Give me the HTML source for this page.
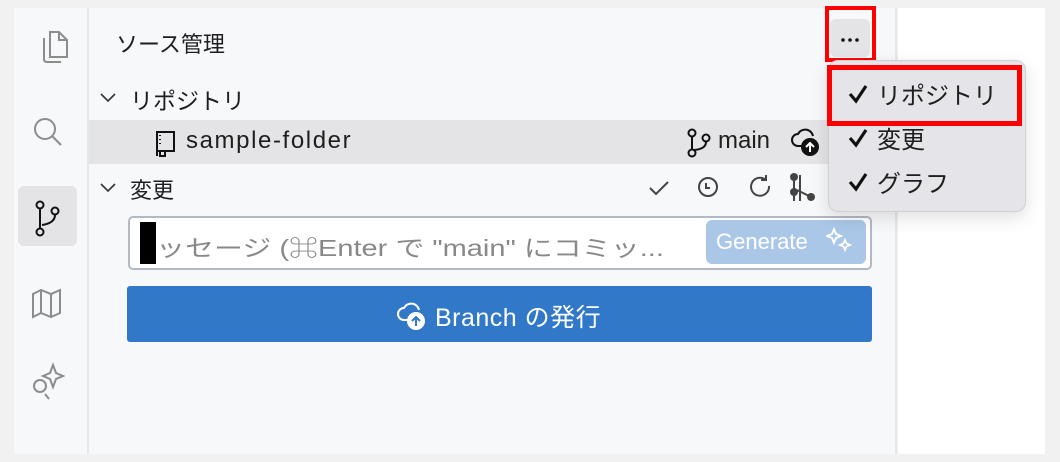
<!DOCTYPE html>
<html><head><meta charset="utf-8"><style>
*{margin:0;padding:0;box-sizing:border-box}
body{width:1060px;height:462px;background:#f1f1f2;position:relative;overflow:hidden;font-family:"Liberation Sans","Noto Sans CJK JP",sans-serif;color:#1e1e1e}
.a{position:absolute}
.t{position:absolute;white-space:nowrap;transform-origin:0 50%}
</style></head><body>
<div class="a" style="left:14px;top:8px;width:75px;height:446px;background:#f7f8fa;border-right:2px solid #e6e7ea"></div>
<div class="a" style="left:89px;top:8px;width:808px;height:446px;background:#f7f8fa;border-right:2px solid #e6e7ea"></div>
<div class="a" style="left:898px;top:8px;width:147px;height:446px;background:#fff"></div>
<svg class="a" style="left:14px;top:8px" width="75" height="446" fill="none" stroke="#8c8c8c" stroke-width="2">
<path d="M36 24h9l8 8v17h-17z M45 24v8h8 M30 30v21q0 3 3 3h14"/>
<circle cx="31" cy="121" r="10"/><path d="M38 128l9 9"/>
<rect x="4" y="178" width="59" height="60" rx="6" fill="#e4e4e6" stroke="none"/>
<g stroke="#111"><circle cx="26" cy="197" r="3.5"/><circle cx="26" cy="224" r="3.5"/><circle cx="41" cy="203" r="3.5"/><path d="M26 201v19 M41 207q0 8-13 10"/></g>
<path d="M19 286l8-4 10 4 9-4v23l-9 4-10-4-8 4z M27 282v23 M37 286v23"/>
<circle cx="26" cy="378" r="6"/><path d="M31 386l4 5 M39 357l3 8 7 3-7 3-3 8-3-8-7-3 7-3z"/>
</svg>
<div class="t" style="left:116px;top:27px;font-size:22px">ソース管理</div>
<div class="a" style="left:830px;top:19px;width:40px;height:38px;background:#e4e4e6;border-radius:6px"></div>
<svg class="a" style="left:830px;top:19px" width="40" height="38"><circle cx="13" cy="21" r="1.8" fill="#111"/><circle cx="20" cy="21" r="1.8" fill="#111"/><circle cx="27" cy="21" r="1.8" fill="#111"/></svg>
<div class="a" style="left:825px;top:6px;width:51px;height:56px;border:4px solid #f00"></div>
<svg class="a" style="left:98px;top:90px" width="20" height="110" fill="none" stroke="#333" stroke-width="1.6"><path d="M3 4l7 7 7-7 M3 94l7 7 7-7"/></svg>
<div class="t" style="left:130px;top:82px;font-size:23px">リポジトリ</div>
<div class="a" style="left:89px;top:120px;width:808px;height:44px;background:#e4e4e6"></div>
<svg class="a" style="left:152px;top:130px" width="26" height="28" fill="none" stroke="#111" stroke-width="2"><path d="M5 2h17v19H5z M5 2v24 M8 22v4h5v-4 M8 5v1 M8 9v1 M8 13v1"/></svg>
<div class="t" style="left:186px;top:127px;font-size:24px;letter-spacing:1.6px">sample-folder</div>
<svg class="a" style="left:684px;top:128px" width="30" height="30" fill="none" stroke="#111" stroke-width="2"><circle cx="8" cy="5" r="3.5"/><circle cx="8" cy="25" r="3.5"/><circle cx="22" cy="10" r="3.5"/><path d="M8 9v12 M22 14q0 7-12 8"/></svg>
<div class="t" style="left:718px;top:127px;font-size:24px">main</div>
<svg class="a" style="left:788px;top:128px" width="34" height="32"><path d="M14 18h-4a6 6 0 0 1 0-12 8 8 0 0 1 15 2" fill="none" stroke="#111" stroke-width="2"/><circle cx="22" cy="19" r="9" fill="#111"/><path d="M22 24v-9 M18 19l4-4 4 4" stroke="#fff" stroke-width="2" fill="none"/></svg>
<div class="t" style="left:130px;top:173px;font-size:22px">変更</div>
<svg class="a" style="left:640px;top:170px" width="190" height="36" fill="none" stroke="#444" stroke-width="2"><path d="M10 18l6 6 12-12"/><circle cx="68" cy="17" r="9"/><path d="M66 13v5h4"/><path d="M126 10a9 9 0 1 0 3 6 M126 5v5h-5"/><circle cx="154" cy="7" r="3" fill="#444"/><circle cx="154" cy="22" r="3" fill="#444"/><circle cx="171" cy="27" r="3" fill="#444"/><path d="M154 5v26 M160 5v26 M157 20l14 7"/></svg>
<div class="a" style="left:128px;top:216px;width:744px;height:54px;background:#fff;border:2px solid #b3b8c6;border-radius:5px"></div>
<div class="a" style="left:140px;top:222px;width:16px;height:42px;background:#000"></div>
<div class="t" style="left:156px;top:229px;font-size:23px;color:#888;transform:scaleX(1.26)">ッセージ (⌘Enter で "main" にコミッ...</div>
<div class="a" style="left:706px;top:220px;width:160px;height:44px;background:#abc7e8;border-radius:6px"></div>
<div class="t" style="left:716px;top:229px;font-size:22px;color:#fff">Generate</div>
<svg class="a" style="left:826px;top:226px" width="32" height="32" fill="none" stroke="#fff" stroke-width="1.8"><path d="M8 3l2 5 5 2-5 2-2 5-2-5-5-2 5-2z M19 14l1.5 3.5 3.5 1.5-3.5 1.5-1.5 3.5-1.5-3.5-3.5-1.5 3.5-1.5z"/></svg>
<div class="a" style="left:127px;top:286px;width:745px;height:56px;background:#3178c9;border-radius:3px"></div>
<svg class="a" style="left:392px;top:298px" width="40" height="34"><path d="M16 22h-4a6 6 0 0 1 0-12 8 8 0 0 1 15 2" fill="none" stroke="#fff" stroke-width="2"/><circle cx="24" cy="23" r="9" fill="#fff"/><path d="M24 28v-9 M20 23l4-4 4 4" stroke="#3178c9" stroke-width="2" fill="none"/></svg>
<div class="t" style="left:435px;top:298px;font-size:25px;color:#fff;letter-spacing:0.5px">Branch の発行</div>
<div class="a" style="left:828px;top:60px;width:198px;height:152px;background:#e4e4e9;border:1px solid #cfcfd4;border-radius:10px;box-shadow:0 6px 18px rgba(0,0,0,.12)"></div>
<svg class="a" style="left:846px;top:80px" width="30" height="120" fill="none" stroke="#111" stroke-width="3.2"><path d="M4 14l6 7 10-15 M4 58l6 7 10-15 M4 102l6 7 10-15"/></svg>
<div class="t" style="left:877px;top:76px;font-size:24px">リポジトリ</div>
<div class="t" style="left:877px;top:120px;font-size:24px">変更</div>
<div class="t" style="left:877px;top:164px;font-size:24px">グラフ</div>
<div class="a" style="left:827px;top:65px;width:195px;height:61px;border:5px solid #f00"></div>
</body></html>
